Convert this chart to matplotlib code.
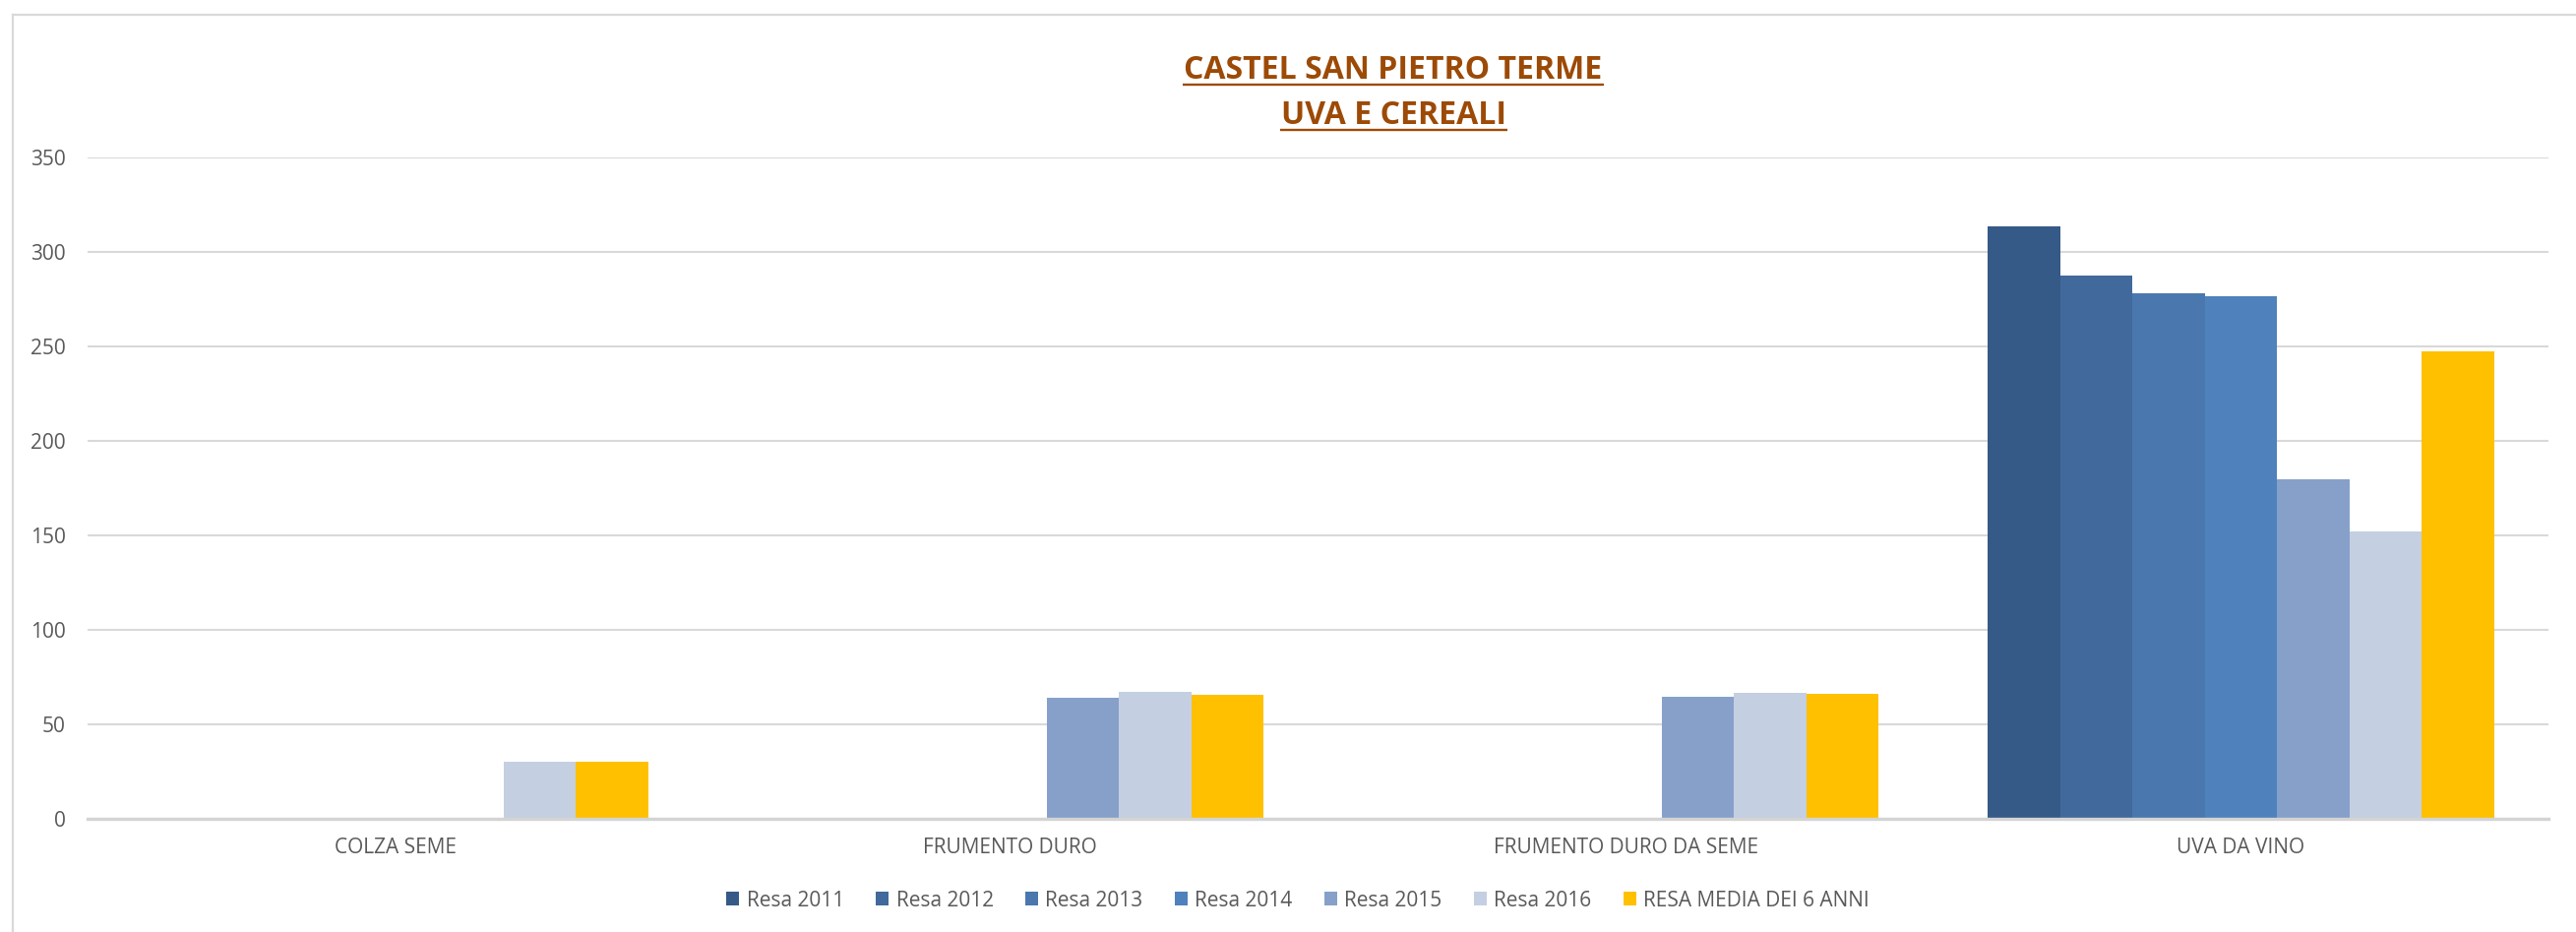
import numpy as np
import matplotlib
matplotlib.use("Agg")
import matplotlib.pyplot as plt
from matplotlib.lines import Line2D

# ---- data ----
categories = ["COLZA SEME", "FRUMENTO DURO", "FRUMENTO DURO DA SEME", "UVA DA VINO"]
series_names = ["Resa 2011", "Resa 2012", "Resa 2013", "Resa 2014",
                "Resa 2015", "Resa 2016", "RESA MEDIA DEI 6 ANNI"]
resa_2011 = [np.nan, np.nan, np.nan, 313.3]
resa_2012 = [np.nan, np.nan, np.nan, 287.6]
resa_2013 = [np.nan, np.nan, np.nan, 277.9]
resa_2014 = [np.nan, np.nan, np.nan, 276.8]
resa_2015 = [np.nan, 63.9, 64.6, 179.8]
resa_2016 = [30.0, 67.1, 66.9, 152.1]
resa_media = [30.0, 65.5, 66.0, 247.6]
y_ticks = [0, 50, 100, 150, 200, 250, 300, 350]

series_values = [resa_2011, resa_2012, resa_2013, resa_2014,
                 resa_2015, resa_2016, resa_media]
colors = ["#355A87", "#41699B", "#4A77AE", "#4F81BC",
          "#86A0CA", "#C4CFE1", "#FFC000"]

W, H = 2618, 947
fig = plt.figure(figsize=(W / 100, H / 100), dpi=100)
fig.patch.set_facecolor("white")

ax = fig.add_axes([89 / W, 1 - 832 / H, (2590 - 89) / W, (832 - 160) / H])

x = np.arange(len(categories))
bw = 0.1176
n = len(series_values)
for i, (vals, col, name) in enumerate(zip(series_values, colors, series_names)):
    ax.bar(x + (i - (n - 1) / 2) * bw, vals, width=bw, color=col,
           label=name, linewidth=0, zorder=3)

ax.set_xlim(-0.5, len(categories) - 0.5)
ax.set_ylim(0, 350)
ax.set_yticks(y_ticks)
ax.set_xticks(x)
ax.set_xticklabels(categories)

tick_family = ["Open Sans", "DejaVu Sans"]
for lab in ax.get_yticklabels() + ax.get_xticklabels():
    lab.set_fontfamily(tick_family)
    lab.set_fontsize(15)
    lab.set_color("#595959")
ax.tick_params(axis="y", length=0, pad=16)
ax.tick_params(axis="x", length=0, pad=14)

ax.grid(axis="y", color="#D9D9D9", linewidth=1.5, zorder=0)
ax.set_axisbelow(True)
for s in ["top", "right", "left"]:
    ax.spines[s].set_visible(False)
ax.spines["bottom"].set_color("#D4D4D4")
ax.spines["bottom"].set_linewidth(2.4)
ax.spines["bottom"].set_zorder(4)

# legend
leg = fig.legend(loc="center", bbox_to_anchor=(1319 / W, 1 - 915 / H),
                 ncol=7, frameon=False,
                 prop=dict(family=tick_family, size=15),
                 handlelength=0.63, handleheight=0.63, handletextpad=0.35,
                 columnspacing=1.55, borderaxespad=0)
for t in leg.get_texts():
    t.set_color("#595959")

# two-line underlined title
title_color = "#9C4A06"
title_lines = [("CASTEL SAN PIETRO TERME", 79.5, 86.5),
               ("UVA E CEREALI", 126.0, 132.0)]
title_texts = []
for txt, base_px, _ in title_lines:
    t = fig.text(1416 / W, 1 - base_px / H, txt, ha="center", va="baseline",
                 family=tick_family, weight="bold", size=23, color=title_color)
    title_texts.append(t)

# chart-area border (left and top edges)
fig.add_artist(Line2D([13 / W, 13 / W], [0, 1 - 15 / H], transform=fig.transFigure,
                      color="#D9D9D9", linewidth=1.6))
fig.add_artist(Line2D([13 / W, 1], [1 - 15 / H, 1 - 15 / H], transform=fig.transFigure,
                      color="#D9D9D9", linewidth=1.6))

fig.canvas.draw()
renderer = fig.canvas.get_renderer()
for t, (_, _, under_px) in zip(title_texts, title_lines):
    bb = t.get_window_extent(renderer)
    yf = 1 - under_px / H
    fig.add_artist(Line2D([(bb.x0 - 1) / W, (bb.x1 + 1) / W], [yf, yf],
                          transform=fig.transFigure, color=title_color,
                          linewidth=1.7, solid_capstyle="butt"))

fig.savefig("out.png", dpi=100, facecolor="white")
